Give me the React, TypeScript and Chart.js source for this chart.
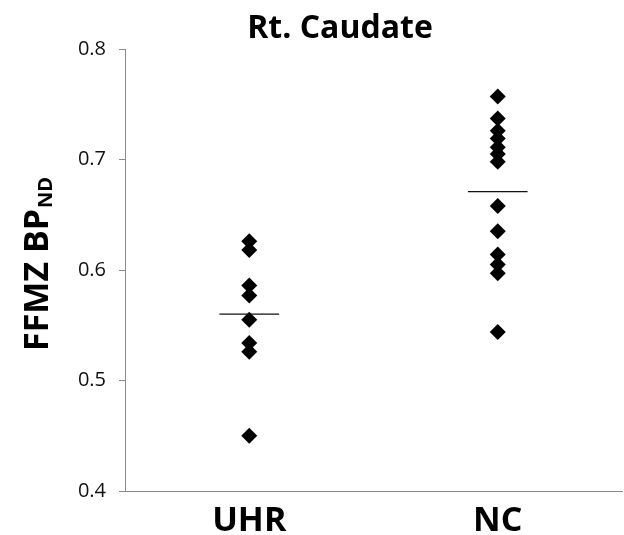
import React, { useEffect, useRef } from "react";
import { Chart, registerables } from "chart.js";

Chart.register(...registerables);

const categories = ["UHR", "NC"];
const uhrValues = [0.626, 0.618, 0.586, 0.577, 0.555, 0.534, 0.526, 0.45];
const ncValues = [0.757, 0.737, 0.726, 0.719, 0.711, 0.705, 0.698, 0.658, 0.635, 0.614, 0.605, 0.597, 0.544];
const groupMeans = [0.56, 0.671];
const yTicks = [0.4, 0.5, 0.6, 0.7, 0.8];

const chartTitle = "Rt. Caudate";
const yTitleMain = "FFMZ BP";
const yTitleSub = "ND";

const FONT = "'Open Sans', 'Noto Sans', sans-serif";
const AXIS_COLOR = "#8a8a8a";
const MEAN_HALF_WIDTH = 0.12;

const labelsPlugin = {
  id: "labelsPlugin",
  afterDraw(chart: any) {
    const ctx = chart.ctx;
    ctx.save();
    ctx.fillStyle = "#000";
    ctx.font = `bold 32px ${FONT}`;
    ctx.textAlign = "center";
    ctx.textBaseline = "alphabetic";
    ctx.fillText(chartTitle, 340, 38);

    // y-axis title with subscript
    ctx.translate(48, 351);
    ctx.rotate(-Math.PI / 2);
    ctx.textAlign = "left";
    ctx.font = `bold 34px ${FONT}`;
    ctx.fillText(yTitleMain, 0, 0);
    const w = ctx.measureText(yTitleMain).width;
    ctx.font = `bold 20px ${FONT}`;
    ctx.fillText(yTitleSub, w + 1, 4);
    ctx.restore();
  },
};

export default function App() {
  const canvasRef = useRef<HTMLCanvasElement | null>(null);

  useEffect(() => {
    if (!canvasRef.current) return;
    const pointDatasets = [uhrValues, ncValues].map((vals, i) => ({
      label: categories[i],
      data: vals.map((v) => ({ x: i + 0.5, y: v })),
      pointStyle: "rectRot",
      pointRadius: 8,
      pointHoverRadius: 8,
      backgroundColor: "#000",
      borderColor: "#000",
      borderWidth: 0,
      showLine: false,
    }));
    const meanDatasets = groupMeans.map((m, i) => ({
      label: categories[i] + " mean",
      data: [
        { x: i + 0.5 - MEAN_HALF_WIDTH, y: m },
        { x: i + 0.5 + MEAN_HALF_WIDTH, y: m },
      ],
      showLine: true,
      pointRadius: 0,
      borderColor: "#111",
      borderWidth: 1.3,
    }));

    const chart = new Chart(canvasRef.current, {
      type: "scatter",
      data: { datasets: [...meanDatasets, ...pointDatasets] as any },
      options: {
        animation: false,
        responsive: false,
        maintainAspectRatio: false,
        layout: { autoPadding: false, padding: { top: 49, right: 2, left: 0, bottom: 0 } },
        plugins: {
          legend: { display: false },
          title: { display: false },
          tooltip: { enabled: false },
        },
        scales: {
          x: {
            type: "linear",
            min: 0,
            max: 2,
            afterBuildTicks: (axis: any) => {
              axis.ticks = categories.map((_, i) => ({ value: i + 0.5 }));
            },
            afterFit: (axis: any) => {
              axis.height = 44;
            },
            ticks: {
              callback: (v: any) => categories[Math.round(Number(v) - 0.5)],
              color: "#000",
              font: { family: FONT, size: 34, weight: "bold" },
              padding: 10,
              maxRotation: 0,
            },
            grid: { drawOnChartArea: false, drawTicks: false },
            border: { display: true, color: AXIS_COLOR, width: 1 },
          },
          y: {
            min: 0.4,
            max: 0.8,
            afterBuildTicks: (axis: any) => {
              axis.ticks = yTicks.map((v) => ({ value: v }));
            },
            afterFit: (axis: any) => {
              axis.width = 125;
            },
            ticks: {
              callback: (v: any) => Number(v).toFixed(1),
              color: "#111",
              font: { family: FONT, size: 20 },
              padding: 13,
            },
            grid: {
              drawOnChartArea: false,
              drawTicks: true,
              tickLength: 6,
              color: AXIS_COLOR,
            },
            border: { display: true, color: AXIS_COLOR, width: 1 },
          },
        },
      } as any,
      plugins: [labelsPlugin],
    });
    return () => chart.destroy();
  }, []);

  return (
    <div style={{ position: "fixed", left: 0, top: 0, width: 624, height: 535, background: "#fff" }}>
      <canvas ref={canvasRef} width={624} height={535} style={{ width: 624, height: 535 }} />
    </div>
  );
}
